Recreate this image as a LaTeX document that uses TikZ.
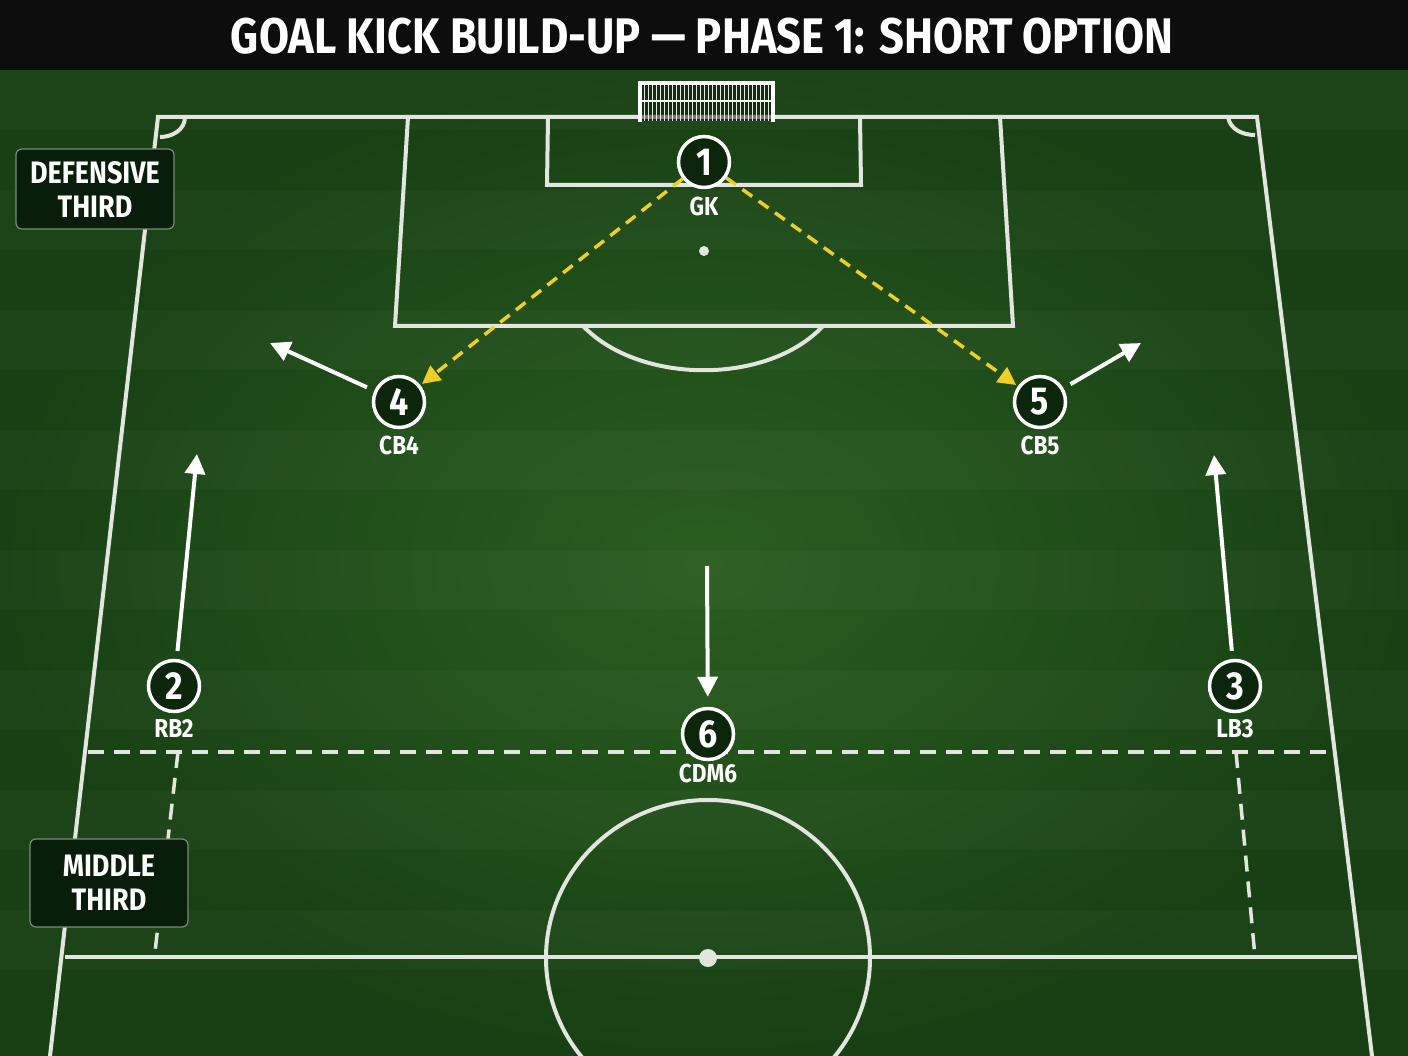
\documentclass[tikz,border=0pt]{standalone}
\usepackage{fontspec}
\setmainfont{Fira Sans}[FakeStretch=0.87]
\usetikzlibrary{arrows.meta,positioning}

\definecolor{pitchdark}{RGB}{24,64,20}
\definecolor{pitchlight}{RGB}{42,94,32}
\definecolor{chalk}{RGB}{226,230,222}
\definecolor{playerfill}{RGB}{12,38,12}
\definecolor{passyellow}{RGB}{240,206,40}
\definecolor{boxfill}{RGB}{8,30,10}
\definecolor{boxedge}{RGB}{120,140,118}

\tikzset{
    pitchline/.style={draw=chalk, line width=4pt},
    thirdline/.style={draw=chalk, line width=3.5pt, dash pattern=on 16pt off 10pt},
    player/.style={circle, draw=white, line width=3.5pt, fill=playerfill, minimum size=51pt, inner sep=0pt, text=white, font=\bfseries\fontsize{39}{39}\selectfont},
    role/.style={text=white, inner sep=0pt, font=\bfseries\fontsize{26}{26}\selectfont},
    run/.style={draw=white, line width=4pt, -{Triangle[length=20pt, width=20pt]}, shorten <=8pt},
    pass/.style={draw=passyellow, line width=3.5pt, dash pattern=on 12pt off 8pt, -{Triangle[length=18pt, width=18pt]}},
    zonebox/.style={rounded corners=6pt, draw=boxedge, line width=1.2pt, fill=boxfill, text=white, align=center, minimum width=158pt, inner sep=0pt, font=\bfseries\fontsize{31}{34}\selectfont}
}

\begin{document}
\begin{tikzpicture}[x=1pt, y=-1pt]
    \useasboundingbox (0,0) rectangle (1408,1056);

    \shade[inner color=pitchlight, outer color=pitchdark] (0,70) rectangle (1408,1056);
    \foreach \y in {70,190,...,1000}
        \fill[white, opacity=0.025] (0,\y) rectangle (1408,\y+60);
    \fill[black!95] (0,0) rectangle (1408,70);
    \node[text=white, font=\bfseries\fontsize{50}{50}\selectfont] (title) at (702,36) {GOAL KICK BUILD-UP — PHASE 1: SHORT OPTION};

    \begin{scope}
        \clip (0,70) rectangle (1408,1056);
        \draw[pitchline] (50,1056) -- (158,117) -- (1257,117) -- (1372,1056);
        \draw[pitchline] (185,117) .. controls (185,130) and (172,137) .. (160,137);
        \draw[pitchline] (1228,117) .. controls (1230,129) and (1242,135) .. (1255,135);
        \draw[pitchline] (408,117) -- (395,326) -- (1013,326) -- (1000,117);
        \draw[pitchline] (548,117) -- (547,185) -- (861,185) -- (860,117);
        \fill[chalk] (704,251) circle [radius=5];
        \draw[pitchline] (583,326) .. controls (640,385) and (768,385) .. (823,326);
        \draw[pitchline] (65,957) -- (1357,957);
        \draw[pitchline] (708,958) ellipse [x radius=162, y radius=158];
        \fill[chalk] (708,958) circle [radius=9];
        \draw[thirdline] (88,752) -- (1330,752);
        \draw[thirdline] (178,752) -- (155,952);
        \draw[thirdline] (1236,752) -- (1255,957);
    \end{scope}

    \fill[playerfill!60!black, opacity=0.5] (640,83) rectangle (773,121);
    \draw[chalk!80, line width=0.6pt, step=4] (640,83) grid (773,121);
    \draw[white, line width=4pt] (640,122) -- (640,83) -- (773,83) -- (773,122);
    \draw[white, line width=2.5pt] (640,101) -- (773,101);

    \node[zonebox, minimum height=80pt] (defthird) at (95,189) {DEFENSIVE\\THIRD};
    \node[zonebox, minimum height=88pt] (midthird) at (109,883) {MIDDLE\\THIRD};

    \node[player] (gk) at (704,162) {1};
    \node[player] (cb4) at (399,402) {4};
    \node[player] (cb5) at (1040,402) {5};
    \node[player] (rb2) at (174,686) {2};
    \node[player] (lb3) at (1235,686) {3};
    \node[player] (cdm6) at (708,734) {6};

    \node[role, below=8pt of gk] (gklabel) {GK};
    \node[role, below=7pt of cb4] (cb4label) {CB4};
    \node[role, below=7pt of cb5] (cb5label) {CB5};
    \node[role, below=6pt of rb2] (rb2label) {RB2};
    \node[role, below=6pt of lb3] (lb3label) {LB3};
    \node[role, below=3pt of cdm6] (cdm6label) {CDM6};

    \coordinate (cb4run) at (270,343);
    \coordinate (cb5run) at (1141,343);
    \coordinate (rb2run) at (197,454);
    \coordinate (lb3run) at (1214,455);
    \coordinate (cdm6run) at (707,566);

    \draw[run] (cb4) -- (cb4run);
    \draw[run] (cb5) -- (cb5run);
    \draw[run] (rb2) -- (rb2run);
    \draw[run] (lb3) -- (lb3run);
    \draw[run, shorten <=0pt, shorten >=10pt] (cdm6run) -- (cdm6);

    \draw[pass, shorten >=2pt] (gk) -- (cb4);
    \draw[pass, shorten >=2pt] (gk) -- (cb5);
\end{tikzpicture}
\end{document}
